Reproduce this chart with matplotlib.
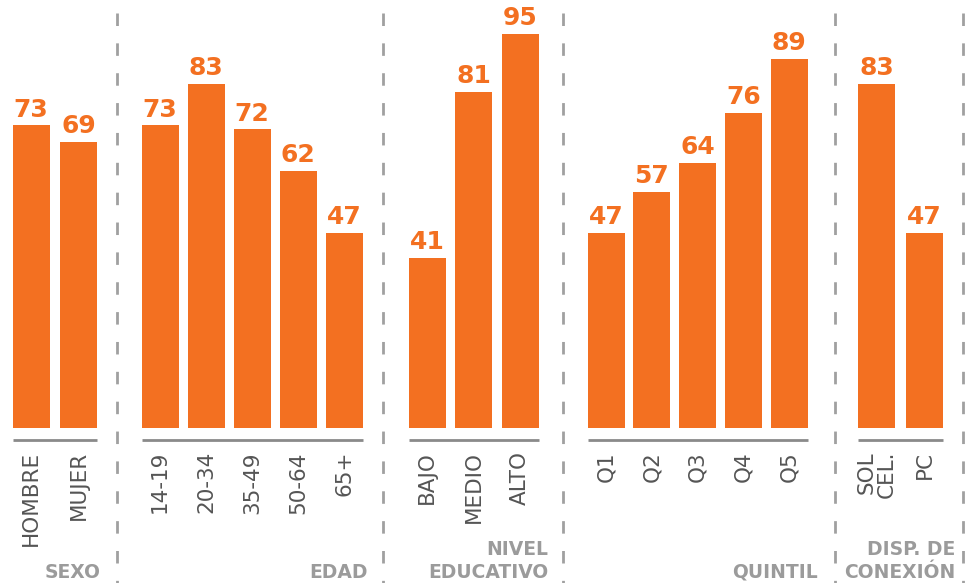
import matplotlib.pyplot as plt

plt.rcParams["font.family"] = ["DejaVu Sans"]
plt.rcParams["lines.scale_dashes"] = False

# data
group_names = ["SEXO", "EDAD", "NIVEL\nEDUCATIVO", "QUINTIL", "DISP. DE\nCONEXIÓN"]
sexo_labels = ["HOMBRE", "MUJER"]
sexo_values = [73, 69]
edad_labels = ["14-19", "20-34", "35-49", "50-64", "65+"]
edad_values = [73, 83, 72, 62, 47]
nivel_labels = ["BAJO", "MEDIO", "ALTO"]
nivel_values = [41, 81, 95]
quintil_labels = ["Q1", "Q2", "Q3", "Q4", "Q5"]
quintil_values = [47, 57, 64, 76, 89]
disp_labels = ["SOL\nCEL.", "PC"]
disp_values = [83, 47]

ORANGE = "#F37021"
DARK = "#555555"
LIGHT = "#9B9B9B"

W, H = 971, 583
BASE_PX = 428          # bar baseline, pixels from top
PX_PER_UNIT = 4.147
YMIN = -(H - BASE_PX) / PX_PER_UNIT
YMAX = BASE_PX / PX_PER_UNIT


def ypx(p):
    """pixel row (from top) -> data y"""
    return (H - p) / PX_PER_UNIT + YMIN


# layout: first bar centre, step between bars, group label right edge
layout = [
    (31, 47.5, 101),
    (160, 46, 368),
    (427, 46.5, 548),
    (606, 45.75, 818),
    (876.5, 48, 955),
]
separators = [117, 383, 563, 835, 963]
bar_w = 37

groups = [
    (sexo_labels, sexo_values),
    (edad_labels, edad_values),
    (nivel_labels, nivel_values),
    (quintil_labels, quintil_values),
    (disp_labels, disp_values),
]

fig = plt.figure(figsize=(W / 100, H / 100), dpi=100)
ax = fig.add_axes([0, 0, 1, 1])
ax.set_xlim(0, W)
ax.set_ylim(YMIN, YMAX)
ax.axis("off")

for (labels, values), (x0, step, gx), name in zip(groups, layout, group_names):
    xs = [x0 + i * step for i in range(len(values))]
    ax.bar(xs, values, width=bar_w, color=ORANGE, bottom=0)
    for x, v, lab in zip(xs, values, labels):
        ax.text(x, v + 2.1, str(v), ha="center", va="baseline",
                fontsize=18, fontweight="bold", color=ORANGE)
        ax.text(x, ypx(451), lab, rotation=90, ha="center", va="top",
                multialignment="right", linespacing=1.0,
                fontsize=15.5, color=DARK)
    ax.plot([xs[0] - bar_w / 2, xs[-1] + bar_w / 2], [ypx(440), ypx(440)],
            color="#8A8A8A", lw=2, solid_capstyle="butt")
    ax.text(gx, ypx(578), name, ha="right", va="baseline", multialignment="right",
            linespacing=1.25, fontsize=13.5, fontweight="bold", color=LIGHT)

for sx in separators:
    ax.plot([sx, sx], [ypx(13), ypx(583)], color="#A0A0A0", lw=2,
            dashes=(9, 12.5), solid_capstyle="butt")

fig.savefig("out.png", dpi=100)
